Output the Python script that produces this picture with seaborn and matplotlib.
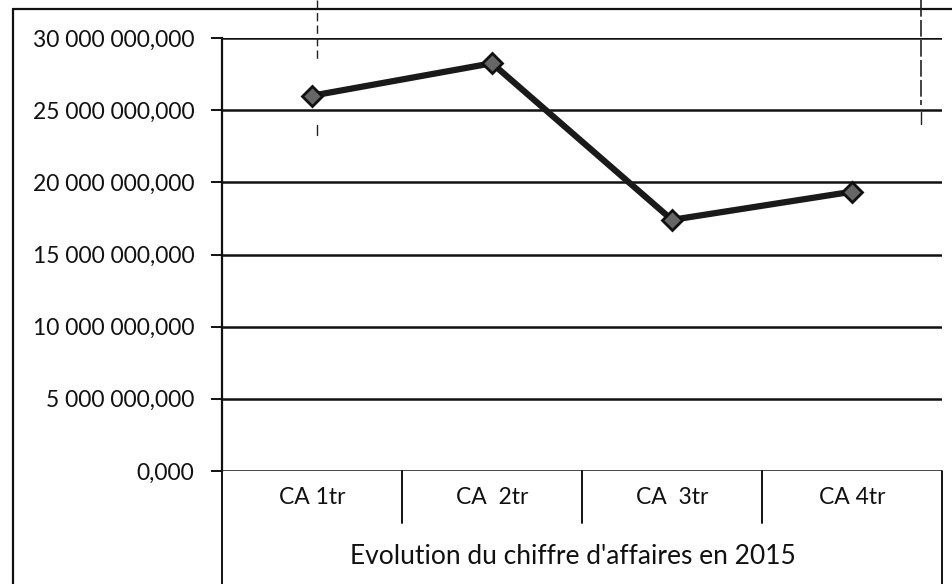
import matplotlib
matplotlib.use("Agg")
import matplotlib.pyplot as plt
from matplotlib.lines import Line2D
from matplotlib.ticker import FuncFormatter, MultipleLocator
import seaborn as sns
import pandas as pd

categories = ["CA 1tr", "CA  2tr", "CA  3tr", "CA 4tr"]
values = [26_000_000, 28_250_000, 17_400_000, 19_350_000]
group_label = "Evolution du chiffre d'affaires en 2015"

sns.set_theme(style="white")
plt.rcParams['font.family'] = ['Lato', 'DejaVu Sans']

W, H = 952, 584
fig = plt.figure(figsize=(W / 100, H / 100), dpi=100)
L, R, T, B = 222, 942, 38, 471
ax = fig.add_axes([L / W, 1 - B / H, (R - L) / W, (B - T) / H])

df = pd.DataFrame({"cat": categories, "val": values})
sns.lineplot(data=df, x="cat", y="val", ax=ax, color="#1a1a1a", lw=4.5,
             marker="D", markersize=10, markerfacecolor="#666666",
             markeredgecolor="#111111", markeredgewidth=2, sort=False, zorder=5)

ax.set_ylim(0, 30_000_000)
ax.set_xlim(-0.5, 3.5)
ax.yaxis.set_major_locator(MultipleLocator(5_000_000))

def fmt(v, pos):
    s = f"{v:,.3f}".replace(",", " ").replace(".", ",")
    return s
ax.yaxis.set_major_formatter(FuncFormatter(fmt))
ax.grid(axis="y", color="#111111", lw=1.8)
ax.set_axisbelow(True)
for s in ["top", "right", "bottom"]:
    ax.spines[s].set_visible(False)
ax.spines["left"].set_color("#111111")
ax.spines["left"].set_linewidth(1.6)
ax.tick_params(axis="y", which="major", left=True, length=8, width=1.4,
               color="#111111", labelsize=16.5, labelcolor="#111111", pad=12)
ax.set_xticks([])
ax.set_xlabel("")
ax.set_ylabel("")

# multi-level category axis box
def fig_line(x0, y0, x1, y1, **kw):
    fig.add_artist(Line2D([x0 / W, x1 / W], [1 - y0 / H, 1 - y1 / H], **kw))

blk = dict(color="#111111", lw=1.4)
fig_line(L, B, L, 584, **blk)
fig_line(R, B, R, 584, **blk)
for i in range(1, 4):
    x = L + (R - L) * i / 4
    fig_line(x, B, x, 523, **blk)
for i, c in enumerate(categories):
    x = L + (R - L) * (i + 0.5) / 4
    fig.text(x / W, 1 - 498 / H, c, ha="center", va="center", fontsize=16.5, color="#111111")
fig.text(573 / W, 1 - 557 / H, group_label, ha="center", va="center",
         fontsize=19, color="#111111")

# outer chart frame
fig_line(13, 9, 952, 9, color="#111111", lw=1.6)
fig_line(13, 9, 13, 584, color="#111111", lw=1.6)

# scan marks
fig_line(317, 0, 317, 62, color="#222222", lw=1.0, ls=(0, (6, 3)))
fig_line(317, 125, 317, 135, color="#222222", lw=1.0)
fig_line(921, 0, 921, 105, color="#222222", lw=1.2, ls=(0, (10, 2)))
fig_line(921, 112, 921, 124, color="#222222", lw=1.0)

fig.savefig("out.png", dpi=100, facecolor="white")
